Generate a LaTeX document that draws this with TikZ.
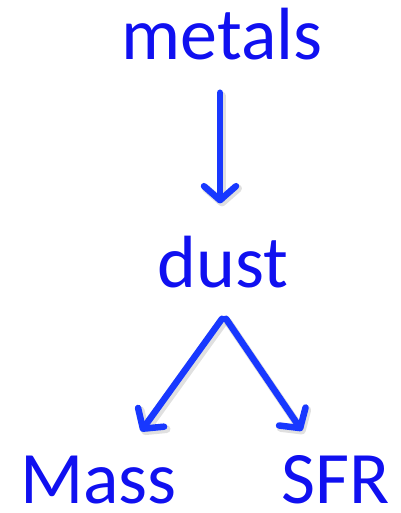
\documentclass[tikz,border=0pt]{standalone}
\usepackage{fontspec}
\setmainfont{Carlito}
\usetikzlibrary{arrows.meta,calc}
\definecolor{txtblue}{RGB}{16,16,240}
\definecolor{arrblue}{RGB}{24,56,255}
\tikzset{
  lbl/.style={anchor=base, inner sep=0pt, text=txtblue, font=\fontsize{74}{74}\selectfont},
  arr/.style={draw=arrblue, line width=6.5pt, line cap=round,
    -{Straight Barb[length=14pt, width=32pt, line cap=round, line join=round]}},
  shadowarr/.style={draw=black, opacity=0.12, line width=8pt, line cap=round,
    -{Straight Barb[length=14pt, width=32pt, line cap=round, line join=round]}}
}
\begin{document}
\begin{tikzpicture}[x=1pt,y=-1pt]
\useasboundingbox (0,0) rectangle (400,513);
\node[lbl] (metals) at (222,60) {metals};
\node[lbl] (dust) at (223,287) {dust};
\node[lbl] (mass) at (98.5,503) {Mass};
\node[lbl] (sfr) at (335.5,503) {SFR};
% shadows
\draw[shadowarr] ([shift={(2pt,-3pt)}]$(metals.south)+(-2,32)$) -- ([shift={(2pt,-3pt)}]$(dust.north)+(-3,-32)$);
\draw[shadowarr] ([shift={(2pt,-3pt)}]$(dust.south)+(-1,31)$) -- ([shift={(2pt,-3pt)}]$(mass.north)+(42.5,-24)$);
\draw[shadowarr] ([shift={(2pt,-3pt)}]$(dust.south)+(3,31)$) -- ([shift={(2pt,-3pt)}]$(sfr.north)+(-33.5,-24)$);
% arrows
\draw[arr] ($(metals.south)+(-2,32)$) -- ($(dust.north)+(-3,-32)$);
\draw[arr] ($(dust.south)+(-1,31)$) -- ($(mass.north)+(42.5,-24)$);
\draw[arr] ($(dust.south)+(3,31)$) -- ($(sfr.north)+(-33.5,-24)$);
\end{tikzpicture}
\end{document}
